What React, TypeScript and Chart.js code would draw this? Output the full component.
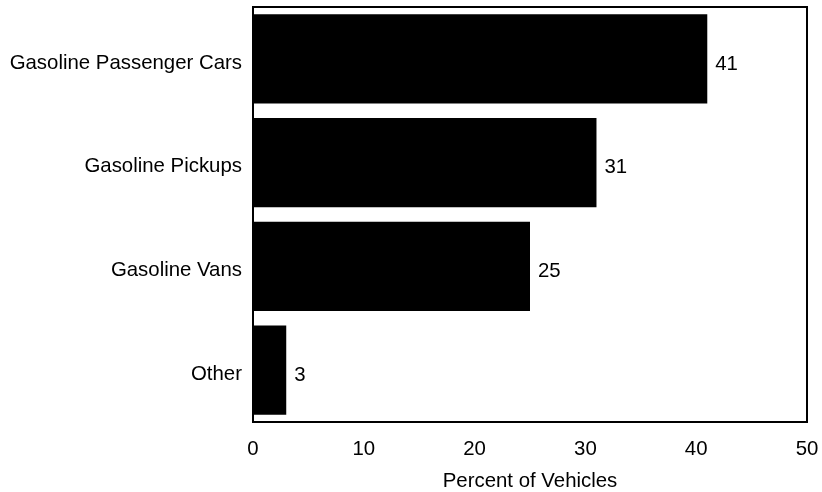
import React, { useEffect, useRef } from "react";
import { Chart, registerables } from "chart.js";

Chart.register(...registerables);

const categories = ["Gasoline Passenger Cars", "Gasoline Pickups", "Gasoline Vans", "Other"];
const percentValues = [41, 31, 25, 3];
const xTicks = [0, 10, 20, 30, 40, 50];
const xTitle = "Percent of Vehicles";

const FONT = "'Liberation Sans', Arial, sans-serif";
const FS = 20.4;

const framePlugin = {
  id: "frame",
  afterDraw(chart: any) {
    const { ctx, chartArea } = chart;
    ctx.save();
    ctx.strokeStyle = "#000";
    ctx.lineWidth = 2;
    ctx.strokeRect(chartArea.left, chartArea.top, chartArea.right - chartArea.left, chartArea.bottom - chartArea.top);
    ctx.restore();
  },
};

const valueLabelPlugin = {
  id: "valueLabels",
  afterDatasetsDraw(chart: any) {
    const { ctx } = chart;
    const meta = chart.getDatasetMeta(0);
    const data = chart.data.datasets[0].data as number[];
    ctx.save();
    ctx.fillStyle = "#000";
    ctx.font = `${FS}px ${FONT}`;
    ctx.textAlign = "left";
    ctx.textBaseline = "middle";
    meta.data.forEach((bar: any, i: number) => {
      ctx.fillText(String(data[i]), bar.x + 8, bar.y + 5);
    });
    ctx.restore();
  },
};

export default function App() {
  const canvasRef = useRef<HTMLCanvasElement>(null);
  useEffect(() => {
    if (!canvasRef.current) return;
    const chart = new Chart(canvasRef.current, {
      type: "bar",
      data: {
        labels: categories,
        datasets: [
          {
            data: percentValues,
            backgroundColor: "#000",
            borderWidth: 0,
            categoryPercentage: 1,
            barPercentage: 0.86,
          },
        ],
      },
      options: {
        indexAxis: "y",
        animation: false,
        responsive: false,
        maintainAspectRatio: false,
        layout: { padding: { top: 7, right: 15, left: 0, bottom: 0 } },
        plugins: {
          legend: { display: false },
          tooltip: { enabled: false },
        },
        scales: {
          x: {
            min: 0,
            max: 50,
            afterBuildTicks(axis: any) {
              axis.ticks = xTicks.map((v) => ({ value: v }));
            },
            afterFit(scale: any) {
              scale.height = 70;
              scale.paddingLeft = 0;
              scale.paddingRight = 0;
            },
            grid: { display: false, drawTicks: false },
            border: { display: false },
            ticks: { color: "#000", font: { size: FS, family: FONT }, padding: 15, maxRotation: 0 },
            title: {
              display: true,
              text: xTitle,
              color: "#000",
              font: { size: FS, family: FONT },
              padding: { top: 0, bottom: -2 },
            },
          },
          y: {
            afterFit(scale: any) {
              scale.width = 253;
              scale.paddingTop = 0;
              scale.paddingBottom = 0;
            },
            grid: { display: false, drawTicks: false },
            border: { display: false },
            ticks: { color: "#000", font: { size: FS, family: FONT }, padding: 11, labelOffset: 4 },
          },
        },
      },
      plugins: [framePlugin, valueLabelPlugin],
    });
    return () => chart.destroy();
  }, []);
  return (
    <div style={{ position: "absolute", left: 0, top: 0, width: 822, height: 492, background: "#fff" }}>
      <canvas ref={canvasRef} width={822} height={492} style={{ width: 822, height: 492 }} />
    </div>
  );
}
